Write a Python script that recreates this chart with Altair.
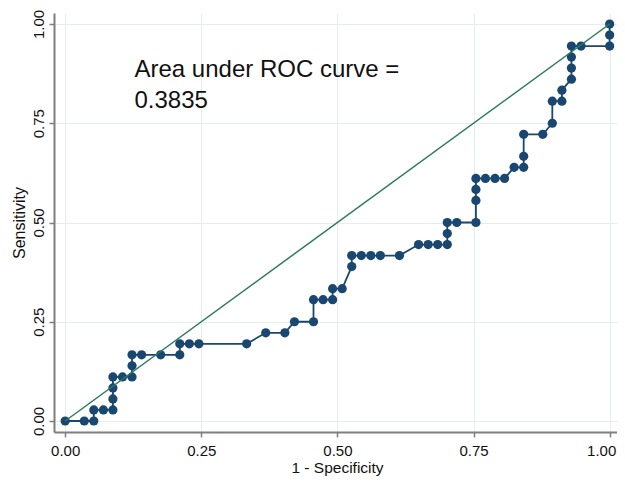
import altair as alt
import pandas as pd

# ROC curve points (1 - specificity, sensitivity)
fpr = [0.0, 0.0351, 0.0526, 0.0526, 0.0702, 0.0877, 0.0877, 0.0877, 0.0877, 0.1053,
       0.1228, 0.1228, 0.1228, 0.1404, 0.1754, 0.2105, 0.2105, 0.2281, 0.2456, 0.3333,
       0.3684, 0.4035, 0.4211, 0.4561, 0.4561, 0.4737, 0.4912, 0.4912, 0.5088, 0.5263,
       0.5263, 0.5439, 0.5614, 0.5789, 0.6140, 0.6491, 0.6667, 0.6842, 0.7018, 0.7018,
       0.7018, 0.7193, 0.7544, 0.7544, 0.7544, 0.7544, 0.7719, 0.7895, 0.8070, 0.8246,
       0.8421, 0.8421, 0.8421, 0.8772, 0.8947, 0.8947, 0.9123, 0.9123, 0.9298, 0.9298,
       0.9298, 0.9298, 0.9474, 1.0, 1.0, 1.0]
sens = [0.0, 0.0, 0.0, 0.0278, 0.0278, 0.0278, 0.0556, 0.0833, 0.1111, 0.1111,
        0.1111, 0.1389, 0.1667, 0.1667, 0.1667, 0.1667, 0.1944, 0.1944, 0.1944, 0.1944,
        0.2222, 0.2222, 0.25, 0.25, 0.3056, 0.3056, 0.3056, 0.3333, 0.3333, 0.3889,
        0.4167, 0.4167, 0.4167, 0.4167, 0.4167, 0.4444, 0.4444, 0.4444, 0.4444, 0.4722,
        0.5, 0.5, 0.5, 0.5556, 0.5833, 0.6111, 0.6111, 0.6111, 0.6111, 0.6389,
        0.6389, 0.6667, 0.7222, 0.7222, 0.75, 0.8056, 0.8056, 0.8333, 0.8611, 0.8889,
        0.9167, 0.9444, 0.9444, 0.9444, 0.9722, 1.0]

# Reference (chance) line
ref_x = [0.0, 1.0]
ref_y = [0.0, 1.0]

tick_values = [0.0, 0.25, 0.5, 0.75, 1.0]
x_title = "1 - Specificity"
y_title = "Sensitivity"
auc_label = ["Area under ROC curve =", "0.3835"]

roc = pd.DataFrame({"fpr": fpr, "sens": sens, "step": list(range(len(fpr)))})
ref = pd.DataFrame({"fpr": ref_x, "sens": ref_y})
note = pd.DataFrame({"label": ["\n".join(auc_label)]})

FONT = "Liberation Sans"
NAVY = "#1a476f"
GREEN = "#2d7a5d"

xscale = alt.Scale(domain=[-0.0205, 1.0135], nice=False, zero=False)
yscale = alt.Scale(domain=[-0.0277, 1.0277], nice=False, zero=False)

xaxis = alt.Axis(
    values=tick_values, format=".2f", title=x_title,
    labelBaseline="alphabetic", labelPadding=18,
    labelOffset=alt.expr("datum.value >= 1 ? -8.5 : 0"),
    titleBaseline="alphabetic", titleX=283, titleY=40.5, titleFontSize=15.5,
)
yaxis = alt.Axis(
    values=tick_values, format=".2f", title=y_title,
    labelAngle=-90, labelAlign="center", labelBaseline="alphabetic", labelPadding=6,
    titleAngle=-90, titleAlign="center", titleBaseline="alphabetic",
    titleX=-30, titleY=209.5,
)

x_enc = alt.X("fpr:Q", scale=xscale, axis=xaxis)
y_enc = alt.Y("sens:Q", scale=yscale, axis=yaxis)

curve = alt.Chart(roc).mark_line(color=NAVY, strokeWidth=1.8).encode(
    x=x_enc, y=y_enc, order="step:Q"
)
dots = alt.Chart(roc).mark_circle(size=85, color=NAVY, opacity=1).encode(
    x=x_enc, y=y_enc
)
diag = alt.Chart(ref).mark_line(color=GREEN, strokeWidth=1.5).encode(
    x=x_enc, y=y_enc
)
text = alt.Chart(note).mark_text(
    align="left", baseline="alphabetic", font=FONT, fontSize=24,
    lineBreak="\n", lineHeight=31.6, color="#111111",
).encode(
    x=alt.value(80.5), y=alt.value(63.7), text="label:N"
)

chart = alt.layer(curve, dots, diag, text).properties(
    width=563, height=419,
    autosize=alt.AutoSizeParams(type="none"),
    padding={"left": 46, "top": 5, "right": 0, "bottom": 44},
    background="white",
).configure_view(strokeWidth=0).configure_axis(
    domainColor="#7f7f7f", domainWidth=2,
    tickColor="#7f7f7f", tickWidth=1.5, tickSize=5,
    gridColor="#e6edf1", gridWidth=1,
    labelFont=FONT, labelFontSize=15, labelColor="#111111",
    titleFont=FONT, titleFontSize=16, titleFontWeight="normal", titleColor="#111111",
)

chart.save("out.html", embed_options={"renderer": "svg", "actions": False})
